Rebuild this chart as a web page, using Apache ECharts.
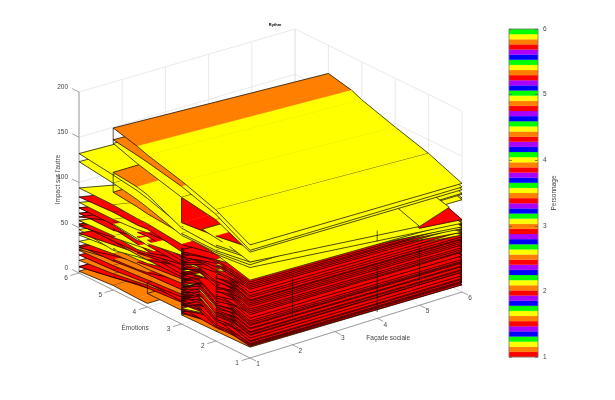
<!DOCTYPE html>
<html><head><meta charset="utf-8">
<style>html,body{margin:0;padding:0;background:#fff}#c{width:615px;height:400px}</style>
<script src="https://cdn.jsdelivr.net/npm/echarts@6/dist/echarts.min.js"></script>
</head><body><div id="c"></div>
<script>
const title = 'Rythm';
const axisNames = {x:'Façade sociale', y:'Émotions', z:"Impact sur l'autre", bar:'Personnage'};
const xTicks = [1,2,3,4,5,6];
const yTicks = [1,2,3,4,5,6];
const zTicks = [0,50,100,150,200];
const prism = ['#ff0000','#ff8000','#ffff00','#00ff00','#0000ff','#aa00ff'];
const barBands = [0,1,2,3,4,5,0,1,2,3,4,5,0,1,2,3,4,5,0,1,2,3,4,5,0,1,2,3,4,5,0,1,2,3,4,5,0,1,2,3,4,5,0,1,2,3,4,5,0,1,2,3,4,5,0,1,2,3,4,5,0,1,2,3];

// y positions of the sheet profiles
const yNodes = [1,2,3,4,4.3,5,6];
const n = null;
// upper, long sheets: impact at x=1, at x=6, colour index per y segment
const longAtX1 = [
 [125,145,158,168,172,179,n],
 [119,140,152,160,162,166,n],
 [117,134,140,150,153,162,n],
 [112,106,108,120,123,127,132],
 [110,104,106,124,127,130,n],
 [103,98,98,110,113,118,123],
 [106,100,100,103,105,108,n],
 [100,96,88,92,92,94,94],
 [98,90,80,86,85,86,84],
 [96,86,84,82,80,78,78],
 [95,84,76,70,68,72,72],
 [92,78,70,74,72,66,66],
 [90,80,74,78,77,76,62],
 [88,74,72,60,58,60,58],
 [86,76,68,64,62,58,52],
 [84,70,66,58,55,54,54],
 [82,66,64,52,50,44,48],
 [80,72,62,56,54,50,44],
 [78,70,66,68,70,73,72],
 [76,66,58,48,47,46,42],
 [74,70,60,62,64,68,66],
 [72,62,50,46,44,38,28],
 [70,60,55,58,58,60,58],
 [68,58,48,38,36,34,26],
 [66,55,52,52,52,54,54],
 [60,50,45,42,42,40,35],
 [55,44,38,36,35,32,30],
 [50,40,33,30,29,27,25],
 [45,36,30,26,25,22,20],
 [40,32,27,24,22,18,14],
 [35,28,24,21,20,14,7]
];
const longAtX6 = [
 [120,135,146,158,163,169,n],
 [116,130,138,148,152,158,n],
 [113,126,132,142,146,152,n],
 [109,122,116,118,120,122,125],
 [108,120,122,126,128,130,n],
 [104,116,110,112,114,116,118],
 [102,114,108,108,110,112,n],
 [76,84,84,70,66,50,44],
 [72,82,72,60,58,50,40],
 [66,60,54,48,44,38,30],
 [70,72,60,50,48,40,30],
 [67,62,52,46,42,34,26],
 [63,58,50,44,40,34,24],
 [64,56,50,40,36,30,24],
 [61,54,46,38,36,30,22],
 [62,52,44,36,34,28,22],
 [58,48,40,32,30,24,20],
 [60,50,42,34,32,26,18],
 [73,62,54,50,48,40,20],
 [58,48,40,30,28,24,16],
 [69,60,44,36,32,24,16],
 [56,46,36,28,26,20,14],
 [65,52,40,34,30,24,18],
 [54,44,34,26,24,18,12],
 [60,50,42,36,34,28,20],
 [55,44,36,28,26,20,14],
 [50,40,32,26,24,18,12],
 [45,34,26,22,20,16,10],
 [40,30,24,18,16,14,8],
 [35,26,20,16,14,10,6],
 [30,24,18,14,12,8,4]
];
const longColor = [
 [2,2,2,2,1,2],
 [2,2,1,1,1,2],
 [2,2,2,2,2,2],
 [2,2,2,2,2,2],
 [2,2,2,2,1,2],
 [2,2,2,2,2,2],
 [2,2,1,1,1,2],
 [2,0,2,2,2,2],
 [2,0,0,0,0,0],
 [2,0,0,2,2,2],
 [2,0,2,2,2,0],
 [2,0,0,0,0,0],
 [2,0,0,0,0,0],
 [2,0,0,2,2,2],
 [0,0,2,2,2,0],
 [2,0,0,0,0,0],
 [2,0,0,2,2,2],
 [0,0,0,0,0,0],
 [0,0,0,2,2,2],
 [0,2,2,2,2,2],
 [0,0,0,0,0,0],
 [0,0,0,0,0,0],
 [0,0,0,2,2,0],
 [0,0,0,1,1,1],
 [0,0,0,1,1,2],
 [0,0,1,1,1,2],
 [0,0,0,0,0,0],
 [0,1,1,1,1,1],
 [0,0,0,0,0,0],
 [0,1,1,1,1,1],
 [0,0,0,0,0,0]
];
// bottom sheets, same profile layout
const baseAtX1 = [
 [n,n,n,4,4,5,2],
 [n,n,15,15,n,n,n],
 [12,11,10,n,n,n,n],
 [n,n,n,21,19,14,7],
 [n,n,25,27,n,n,n]
];
const baseAtX6 = [
 [n,n,n,4,4,4,2],
 [n,n,12,12,n,n,n],
 [8,8,8,n,n,n,n],
 [n,n,n,12,10,8,4],
 [n,n,18,18,n,n,n]
];
const baseColor = [
 [1,1,1,1,1,1],
 [1,1,1,1,1,1],
 [1,1,1,1,1,1],
 [0,0,0,0,0,0],
 [0,0,0,0,0,0]
];
// partial sheets: x start, x end, y nodes, impact at start, impact at end, colours, paint order nudge
const partStart = [1,1,5,1,5];
const partEnd = [5,6,6,3,5.7];
const partY = [[1,1.6,2.4],[1,2,3],[1,2,3],[1,2,3,3.001],[1,2]];
const partAtStart = [[106,112,116],[86,96,100],[85,95,100],[122,116,112,140],[87,100]];
const partAtEnd = [[87,104,112],[79,88,96],[80,94,100],[118,114,110,138],[98,108]];
const partColor = [[2,2],[2,2],[0,0],[0,0,0],[2]];
const partNudge = [0,0,0.05,0,0.06];
// dense red sheets, y = 1,2,3 : impact at x=1, then at x=6, then colour of far segment
const denseAtX1 = [
 [13,19,12],[14,20,13],[15,26,22],[16,24,30],[17,15,18],[18,31,14],[19,30,22],[20,16,35],[21,18,40],[22,34,26],
 [23,28,17],[24,26,16],[25,36,44],[26,38,34],[27,22,48],[28,40,20],[29,42,20],[30,24,54],[31,28,52],[32,44,28],
 [33,46,36],[34,32,24],[35,30,58],[36,48,26],[37,50,44],[38,36,60],[39,52,32],[40,34,50],[41,54,30],[42,44,56],
 [43,38,62],[44,58,38],[45,56,34],[46,42,68],[47,40,66],[48,62,46],[49,52,28],[50,64,42],[51,46,70],[52,66,58],
 [53,48,70],[54,68,40],[55,58,52],[56,60,42],[57,70,64],[58,56,50],[59,72,48],[60,62,72],[61,74,68],[62,64,74],
 [63,76,56],[64,78,54],[65,68,72],[66,60,76],[67,80,60],[68,72,62],[69,80,76],[70,66,78],[71,66,60],[72,82,78],
 [73,70,64],[75,76,70],[76,84,66],[77,78,80],[78,86,68],[80,86,74],[82,88,82],[84,90,78]
];
const denseAtX6 = [
 [8,12,10],[10,16,12],[11,20,18],[12,20,24],[13,14,15],[14,24,12],[15,25,18],[16,14,26],[17,15,32],[18,28,20],
 [19,22,15],[20,22,14],[22,30,36],[22,32,28],[23,18,40],[24,34,16],[25,36,16],[26,20,44],[27,24,44],[28,38,22],
 [29,40,30],[30,28,20],[31,26,48],[32,42,22],[33,44,36],[34,30,50],[34,44,26],[36,28,42],[36,48,24],[38,38,46],
 [38,32,52],[40,50,32],[41,48,28],[41,36,56],[42,34,56],[44,54,38],[45,46,22],[45,56,36],[46,40,58],[47,58,48],
 [48,42,60],[49,60,34],[49,50,44],[51,52,34],[52,62,54],[54,50,42],[54,64,40],[55,54,62],[56,66,58],[57,56,64],
 [58,68,46],[59,70,46],[60,60,62],[60,52,64],[61,72,50],[62,64,52],[64,72,66],[64,58,66],[66,58,50],[67,74,68],
 [67,62,54],[69,68,60],[70,76,56],[72,70,70],[72,78,58],[74,78,64],[75,79,70],[77,79,68]
];
const denseColor = [
 0,0,0,1,0,0,0,0,0,0,2,0,0,0,0,0,0,0,1,0,
 0,0,0,0,0,2,0,0,0,0,0,0,0,0,0,0,0,2,0,0,
 0,0,0,0,0,0,0,0,2,0,0,0,0,0,0,0,0,0,2,0,
 0,0,0,0,0,0,0,0
];
// vertical break lines: x, y, from, to
const breaks = [
 [1,3,10,84],[1,4,15,27],[1,5,108,130],[1,5,162,179],
 [2,1,30,75],[4,1,7,57],[5,1,22,66],
 [4,1,85,97]
];

// oblique view of the box, pixels per data unit, with a slight perspective term
const origin = [250,358];
const perX = [42.4,-13.2], perY = [-34.2,-17], perZ = -0.905, persp = [4,3];
const proj = (x,y,z)=>{
  const t=(x-1)*(y-1)/25;
  return [origin[0]+perX[0]*(x-1)+perY[0]*(y-1)+persp[0]*t,
          origin[1]+perX[1]*(x-1)+perY[1]*(y-1)+perZ*z+persp[1]*t];
};
const near = (y,z)=>-(y-1)/5+0.76*z/200;

// sheets -> facets
const facets = [];
function addSheet(xa,xb,ys,za,zb,cols,folds,nudge){
  let lastIdx=-1; for(let i=0;i<ys.length;i++) if(za[i]!==null) lastIdx=i;
  for(let i=0;i<ys.length-1;i++){
    if(za[i]===null||za[i+1]===null) continue;
    const front = (i===0||za[i-1]===null||folds.includes(ys[i]))?1:0;
    const back = (i+1===lastIdx)?1:0;
    const key = near((ys[i]+ys[i+1])/2,(za[i]+za[i+1]+zb[i]+zb[i+1])/4)+(nudge||0);
    facets.push([xa,xb,ys[i],ys[i+1],za[i],zb[i],za[i+1],zb[i+1],cols[i],front,back,key]);
  }
}
longAtX1.forEach((r,i)=>addSheet(1,6,yNodes,r,longAtX6[i],longColor[i],[2,5,6]));
baseAtX1.forEach((r,i)=>addSheet(1,6,yNodes,r,baseAtX6[i],baseColor[i],[2,5,6]));
partAtStart.forEach((r,i)=>addSheet(partStart[i],partEnd[i],partY[i],r,partAtEnd[i],partColor[i],[],partNudge[i]));
denseAtX1.forEach((r,i)=>addSheet(1,6,[1,2,3],r,denseAtX6[i],[0,denseColor[i]],[2]));
facets.sort((a,b)=>a[11]-b[11]);

const chart = echarts.init(document.getElementById('c'),null,{renderer:'canvas'});
const ink='#000', grey='#444444', gridc='#e4e4e4', boxc='#8a8a8a';
const edge=0.7;

// box lines [x0,y0,z0,x1,y1,z1,kind]
const boxLines=[];
xTicks.forEach(t=>{ boxLines.push([t,6,0,t,6,200,0],[t,1,0,t,6,0,0]); });
yTicks.forEach(t=>{ boxLines.push([6,t,0,6,t,200,0],[1,t,0,6,t,0,0]); });
zTicks.forEach(t=>{ boxLines.push([1,6,t,6,6,t,0],[6,6,t,6,1,t,0]); });
const axisLines=[[1,6,0,1,6,200,1],[1,1,0,1,6,0,1],[1,1,0,6,1,0,1]];
xTicks.forEach(t=>axisLines.push([t,1,0,t,0.82,0,1]));
yTicks.forEach(t=>axisLines.push([1,t,0,0.8,t,0,1]));
zTicks.forEach(t=>axisLines.push([1,6,t,1,6.2,t,1]));

function lineItem(params,api){
  const a=api.coord(proj(api.value(0),api.value(1),api.value(2)));
  const b=api.coord(proj(api.value(3),api.value(4),api.value(5)));
  const k=api.value(6);
  return {type:'line',shape:{x1:a[0],y1:a[1],x2:b[0],y2:b[1]},
    style:{stroke:k===0?gridc:k===1?boxc:'#111',lineWidth:k===2?0.7:0.8},silent:true};
}
function facetItem(params,api){
  const v=i=>api.value(i);
  const xa=v(0),xb=v(1),y0=v(2),y1=v(3);
  const p=[proj(xa,y0,v(4)),proj(xb,y0,v(5)),proj(xb,y1,v(7)),proj(xa,y1,v(6))].map(q=>api.coord(q));
  const kids=[{type:'polygon',shape:{points:p},style:{fill:prism[v(8)],stroke:prism[v(8)],lineWidth:0.3}},
    {type:'line',shape:{x1:p[0][0],y1:p[0][1],x2:p[3][0],y2:p[3][1]},style:{stroke:ink,lineWidth:edge}},
    {type:'line',shape:{x1:p[1][0],y1:p[1][1],x2:p[2][0],y2:p[2][1]},style:{stroke:ink,lineWidth:edge}}];
  if(v(9)) kids.push({type:'line',shape:{x1:p[0][0],y1:p[0][1],x2:p[1][0],y2:p[1][1]},style:{stroke:ink,lineWidth:edge}});
  if(v(10)) kids.push({type:'line',shape:{x1:p[2][0],y1:p[2][1],x2:p[3][0],y2:p[3][1]},style:{stroke:ink,lineWidth:edge}});
  return {type:'group',children:kids,silent:true};
}
// labels [text,x,y,z,dx,dy,rotate,size,align]
const labels=[];
zTicks.forEach(t=>labels.push([String(t),1,6,t,-11,-5,0,6.5,'right']));
yTicks.forEach(t=>labels.push([String(t),1,t,0,-13,5,0,6.5,'center']));
xTicks.forEach(t=>labels.push([String(t),t,1,0,8,6.5,0,6.5,'center']));
labels.push([axisNames.z,1,6,100,-21,-3,90,6.5,'center']);
labels.push([axisNames.y,1,3.6,0,-26,14,0,6.5,'center']);
labels.push([axisNames.x,4,1,0,11,20,0,6.5,'center']);
function labelItem(params,api){
  const c=api.coord(proj(api.value(0),api.value(1),api.value(2)));
  const d=labels[params.dataIndex];
  return {type:'text',x:c[0]+d[4],y:c[1]+d[5],rotation:d[6]*Math.PI/180,silent:true,
    style:{text:d[0],fill:grey,font:d[7]+'px "Liberation Sans"',align:d[8],verticalAlign:'middle'}};
}
function bandItem(params,api){
  const i=api.value(0);
  const a=api.coord([0,i]),b=api.coord([1,i+1]);
  return {type:'rect',shape:{x:a[0],y:b[1],width:b[0]-a[0],height:a[1]-b[1]},
    style:{fill:prism[api.value(1)],stroke:prism[api.value(1)],lineWidth:0.2},silent:true};
}
const tickAxis=(pos,labelled)=>({type:'value',min:1,max:6,interval:1,position:pos,gridIndex:1,
  axisLine:{show:false},splitLine:{show:false},
  axisTick:{show:true,inside:true,length:3,lineStyle:{color:'#555',width:0.7}},
  axisLabel:{show:labelled,fontSize:6.5,color:grey,margin:5,fontFamily:'Liberation Sans'},
  name:labelled?axisNames.bar:'',nameLocation:'middle',nameRotate:90,nameGap:8,
  nameTextStyle:{fontSize:6.5,color:grey,fontFamily:'Liberation Sans'},z:6});

chart.setOption({
  animation:false,
  backgroundColor:'#fff',
  title:{text:title,left:270,top:18,textAlign:'center',textStyle:{fontSize:4,fontWeight:'bold',color:'#000',fontFamily:'Liberation Sans'}},
  grid:[{left:0,top:0,right:0,bottom:0},{left:509,width:29,top:29,height:328,show:true,borderColor:'#777',borderWidth:0.8,backgroundColor:'transparent',z:7}],
  xAxis:[{type:'value',min:0,max:615,show:false,gridIndex:0},
         {type:'value',min:0,max:1,show:false,gridIndex:1}],
  yAxis:[{type:'value',min:0,max:400,inverse:true,show:false,gridIndex:0},
         {type:'value',min:0,max:64,show:false,gridIndex:1},
         tickAxis('right',true),tickAxis('left',false)],
  series:[
    {type:'custom',xAxisIndex:0,yAxisIndex:0,clip:false,renderItem:lineItem,data:boxLines,silent:true,z:1},
    {type:'custom',xAxisIndex:0,yAxisIndex:0,clip:false,renderItem:lineItem,data:axisLines,silent:true,z:2},
    {type:'custom',xAxisIndex:0,yAxisIndex:0,clip:false,renderItem:facetItem,data:facets,silent:true,z:3},
    {type:'custom',xAxisIndex:0,yAxisIndex:0,clip:false,renderItem:lineItem,data:breaks.map(b=>[b[0],b[1],b[2],b[0],b[1],b[3],2]),silent:true,z:4},
    {type:'custom',xAxisIndex:0,yAxisIndex:0,clip:false,renderItem:labelItem,data:labels.map(l=>l.slice(1,4)),silent:true,z:5},
    {type:'custom',xAxisIndex:1,yAxisIndex:1,clip:false,renderItem:bandItem,data:barBands.map((c,i)=>[i,c]),silent:true,z:3},
    {type:'line',xAxisIndex:1,yAxisIndex:2,data:[],silent:true},
    {type:'line',xAxisIndex:1,yAxisIndex:3,data:[],silent:true}
  ]
});
</script></body></html>
